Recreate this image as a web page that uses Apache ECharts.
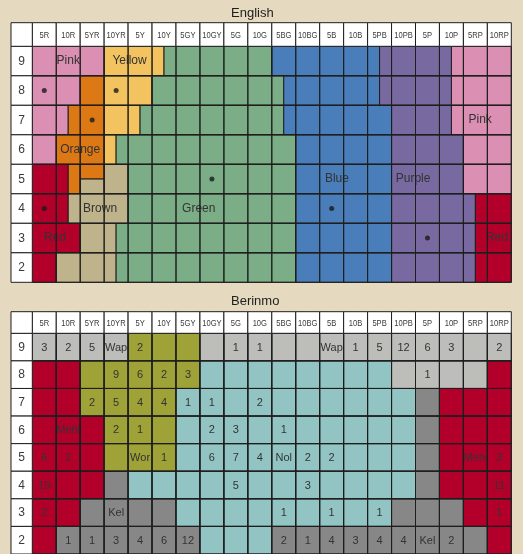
<!DOCTYPE html>
<html><head><meta charset="utf-8">
<script src="https://cdn.jsdelivr.net/npm/echarts@6/dist/echarts.min.js"></script>
<style>html,body{margin:0;padding:0;background:#E5D9BF;}#c{width:523px;height:554px;}</style>
</head><body><div id="c"></div>
<script>
// ---- data ----
const columns = ['5R','10R','5YR','10YR','5Y','10Y','5GY','10GY','5G','10G','5BG','10BG','5B','10B','5PB','10PB','5P','10P','5RP','10RP'];
const rowValues = [9,8,7,6,5,4,3,2];

// English colour-term regions: [term, fromColumn, toColumn, fromValue, toValue]
const englishRegions = [
  ['pink',0,3,8.5,9.5],['yellow',3,5.5,8.5,9.5],['green',5.5,10,8.5,9.5],['blue',10,14.5,8.5,9.5],['purple',14.5,17.5,8.5,9.5],['pink',17.5,20,8.5,9.5],
  ['pink',0,2,7.5,8.5],['orange',2,3,7.5,8.5],['yellow',3,5,7.5,8.5],['green',5,10.5,7.5,8.5],['blue',10.5,14.5,7.5,8.5],['purple',14.5,17.5,7.5,8.5],['pink',17.5,20,7.5,8.5],
  ['pink',0,1.5,6.5,7.5],['orange',1.5,3,6.5,7.5],['yellow',3,4.5,6.5,7.5],['green',4.5,10.5,6.5,7.5],['blue',10.5,15,6.5,7.5],['purple',15,17.5,6.5,7.5],['pink',17.5,20,6.5,7.5],
  ['pink',0,1,5.5,6.5],['orange',1,3,5.5,6.5],['yellow',3,3.5,5.5,6.5],['green',3.5,11,5.5,6.5],['blue',11,15,5.5,6.5],['purple',15,18,5.5,6.5],['pink',18,20,5.5,6.5],
  ['red',0,1.5,4.5,5.5],['orange',1.5,2,4.5,5.5],['orange',2,3,5,5.5],['brown',2,3,4.5,5],['brown',3,4,4.5,5.5],['green',4,11,4.5,5.5],['blue',11,15,4.5,5.5],['purple',15,18,4.5,5.5],['pink',18,20,4.5,5.5],
  ['red',0,1.5,3.5,4.5],['brown',1.5,4,3.5,4.5],['green',4,11,3.5,4.5],['blue',11,15,3.5,4.5],['purple',15,18.5,3.5,4.5],['red',18.5,20,3.5,4.5],
  ['red',0,2,2.5,3.5],['brown',2,3.5,2.5,3.5],['green',3.5,11,2.5,3.5],['blue',11,15,2.5,3.5],['purple',15,18.5,2.5,3.5],['red',18.5,20,2.5,3.5],
  ['red',0,1,1.5,2.5],['brown',1,3.5,1.5,2.5],['green',3.5,11,1.5,2.5],['blue',11,15,1.5,2.5],['purple',15,18.5,1.5,2.5],['red',18.5,20,1.5,2.5]
];
const englishFoci = [['5R',8],['10YR',8],['5YR',7],['10GY',5],['5R',4],['5B',4],['5P',3]];
const englishLabels = [['Pink',1.5,9],['Yellow',4.06,9],['Orange',2,6],['Brown',2.83,4],['Green',6.95,4],['Red',0.95,3],['Blue',12.72,5],['Purple',15.9,5],['Pink',18.7,7],['Red',19.4,3]];

// Berinmo terms per row (R = mehi, O = wor, C = nol, G = wap, K = kel)
const berinmoTerms = [
  'GGGGOOOGGGGGGGGGGGGG',
  'RROOOOOCCCCCCCCGGGGR',
  'RROOOOCCCCCCCCCCKRRR',
  'RRROOOCCCCCCCCCCKRRR',
  'RRROOOCCCCCCCCCCKRRR',
  'RRRKCCCCCCCCCCCCKRRR',
  'RRKKKKCCCCCCCCCKKKRR',
  'RKKKKKKCCCKKKKKKKKKR'
];
const berinmoCounts = [
  ['3','2','5','Wap','2','','','','1','1','','','Wap','1','5','12','6','3','','2'],
  ['','','','9','6','2','3','','','','','','','','','','1','','',''],
  ['','','2','5','4','4','1','1','','2','','','','','','','','','',''],
  ['','Mehi','','2','1','','','2','3','','1','','','','','','','','',''],
  ['6','2','','','Wor','1','','6','7','4','Nol','2','2','','','','','','Mehi','3'],
  ['19','','','','','','','','5','','','3','','','','','','','','11'],
  ['2','','','Kel','','','','','','','1','','1','','1','','','','','1'],
  ['','1','1','3','4','6','12','','','','2','1','4','3','4','4','Kel','2','','']
];

// ---- styles ----
const englishColors = {pink:'#DB8FB2', yellow:'#F3C35F', orange:'#DC7914', green:'#7BAE87', blue:'#4A7EBB', purple:'#7969A1', red:'#B3002A', brown:'#BFB38C'};
const berinmoColors = {R:'#B3002A', O:'#9FA237', C:'#93C4C4', G:'#BDBDBA', K:'#878787'};
const LINE = '#1e1e1e';
const TXT = '#333333';
const FONT = 'Liberation Sans, Arial, sans-serif';
const HEAD_FONT = '9.5px "Liberation Sans", Arial, sans-serif';
const HEADER_H = [23.6, 21.6];
const LABEL_W = 21.3;

const chart = echarts.init(document.getElementById('c'));

function box(api, x0, x1, y0, y1) {
  const a = api.coord([x0, y1]), b = api.coord([x1, y0]);
  return {x: a[0], y: a[1], width: b[0] - a[0], height: b[1] - a[1]};
}

const cellData = [];
rowValues.forEach(r => columns.forEach((_, c) => cellData.push([c, r])));

function frameSeries(gi) {
  return {
    type: 'custom', xAxisIndex: gi, yAxisIndex: gi, silent: true, z: 3,
    data: cellData,
    renderItem: (p, api) => {
      const c = api.value(0), r = api.value(1);
      return {type: 'rect', shape: box(api, c, c + 1, r - 0.5, r + 0.5), style: {fill: 'none', stroke: LINE, lineWidth: 1}};
    }
  };
}
function headerSeries(gi) {
  const data = columns.map((_, i) => [0, i]).concat(rowValues.map(r => [1, r])).concat([[2, 0]]);
  const hh = HEADER_H[gi];
  return {
    type: 'custom', xAxisIndex: gi, yAxisIndex: gi, silent: true, z: 3,
    data: data,
    renderItem: (p, api) => {
      const kind = api.value(0), k = api.value(1);
      let shape, text = '', font, sx = 1;
      if (kind === 0) {
        const a = api.coord([k, 9.5]), b = api.coord([k + 1, 9.5]);
        shape = {x: a[0], y: a[1] - hh, width: b[0] - a[0], height: hh};
        text = columns[k]; font = HEAD_FONT; sx = 0.8;
      } else if (kind === 1) {
        const a = api.coord([0, k + 0.5]), b = api.coord([0, k - 0.5]);
        shape = {x: a[0] - LABEL_W, y: a[1], width: LABEL_W, height: b[1] - a[1]};
        text = String(k); font = '12px ' + FONT;
      } else {
        const a = api.coord([0, 9.5]);
        shape = {x: a[0] - LABEL_W, y: a[1] - hh, width: LABEL_W, height: hh};
      }
      return {type: 'group', children: [
        {type: 'rect', shape: shape, style: {fill: '#ffffff', stroke: LINE, lineWidth: 1}},
        {type: 'text', x: shape.x + shape.width / 2, y: shape.y + shape.height / 2 + 0.5, scaleX: sx,
         style: {text: text, x: 0, y: 0, align: 'center', verticalAlign: 'middle', font: font, fill: '#3a3a3a'}}
      ]};
    }
  };
}

const option = {
  backgroundColor: '#E5D9BF',
  animation: false,
  title: [
    {text: 'English', left: 231, top: 6.5, padding: 0, textStyle: {fontSize: 13, fontWeight: 'normal', color: '#1e1e1e', fontFamily: FONT}},
    {text: 'Berinmo', left: 231, top: 295, padding: 0, textStyle: {fontSize: 13, fontWeight: 'normal', color: '#1e1e1e', fontFamily: FONT}}
  ],
  grid: [
    {left: 32.3, top: 46.3, width: 479, height: 236},
    {left: 32.3, top: 333.3, width: 479, height: 225.6}
  ],
  xAxis: [
    {type: 'value', gridIndex: 0, min: 0, max: 20, show: false},
    {type: 'value', gridIndex: 1, min: 0, max: 20, show: false}
  ],
  yAxis: [
    {type: 'value', gridIndex: 0, min: 1.5, max: 9.5, show: false},
    {type: 'value', gridIndex: 1, min: 1.5, max: 9.5, show: false}
  ],
  series: [
    {
      type: 'custom', xAxisIndex: 0, yAxisIndex: 0, silent: true, z: 1,
      data: englishRegions.map(r => [r[1], r[2], r[3], r[4]]),
      renderItem: (p, api) => ({
        type: 'rect',
        shape: box(api, api.value(0), api.value(1), api.value(2), api.value(3)),
        style: {fill: englishColors[englishRegions[p.dataIndex][0]], stroke: LINE, lineWidth: 1}
      })
    },
    {
      type: 'custom', xAxisIndex: 0, yAxisIndex: 0, silent: true, z: 2,
      data: englishLabels.map(l => [l[1], l[2]]),
      renderItem: (p, api) => {
        const pt = api.coord([api.value(0), api.value(1)]);
        return {type: 'text', style: {text: englishLabels[p.dataIndex][0], x: pt[0], y: pt[1], align: 'center', verticalAlign: 'middle', font: '12px ' + FONT, fill: TXT}};
      }
    },
    frameSeries(0),
    headerSeries(0),
    {
      type: 'scatter', xAxisIndex: 0, yAxisIndex: 0, silent: true, z: 4,
      symbolSize: 5, itemStyle: {color: '#1a1a1a'},
      data: englishFoci.map(f => [columns.indexOf(f[0]) + 0.5, f[1]])
    },
    {
      type: 'custom', xAxisIndex: 1, yAxisIndex: 1, silent: true, z: 1,
      data: cellData,
      renderItem: (p, api) => {
        const c = api.value(0), r = api.value(1);
        const ri = rowValues.indexOf(r);
        const s = box(api, c, c + 1, r - 0.5, r + 0.5);
        return {type: 'group', children: [
          {type: 'rect', shape: s, style: {fill: berinmoColors[berinmoTerms[ri][c]], stroke: LINE, lineWidth: 1}},
          {type: 'text', style: {text: berinmoCounts[ri][c], x: s.x + s.width / 2, y: s.y + s.height / 2 + 0.5, align: 'center', verticalAlign: 'middle', font: '11px ' + FONT, fill: TXT}}
        ]};
      }
    },
    frameSeries(1),
    headerSeries(1)
  ]
};
chart.setOption(option);
</script>
</body></html>
